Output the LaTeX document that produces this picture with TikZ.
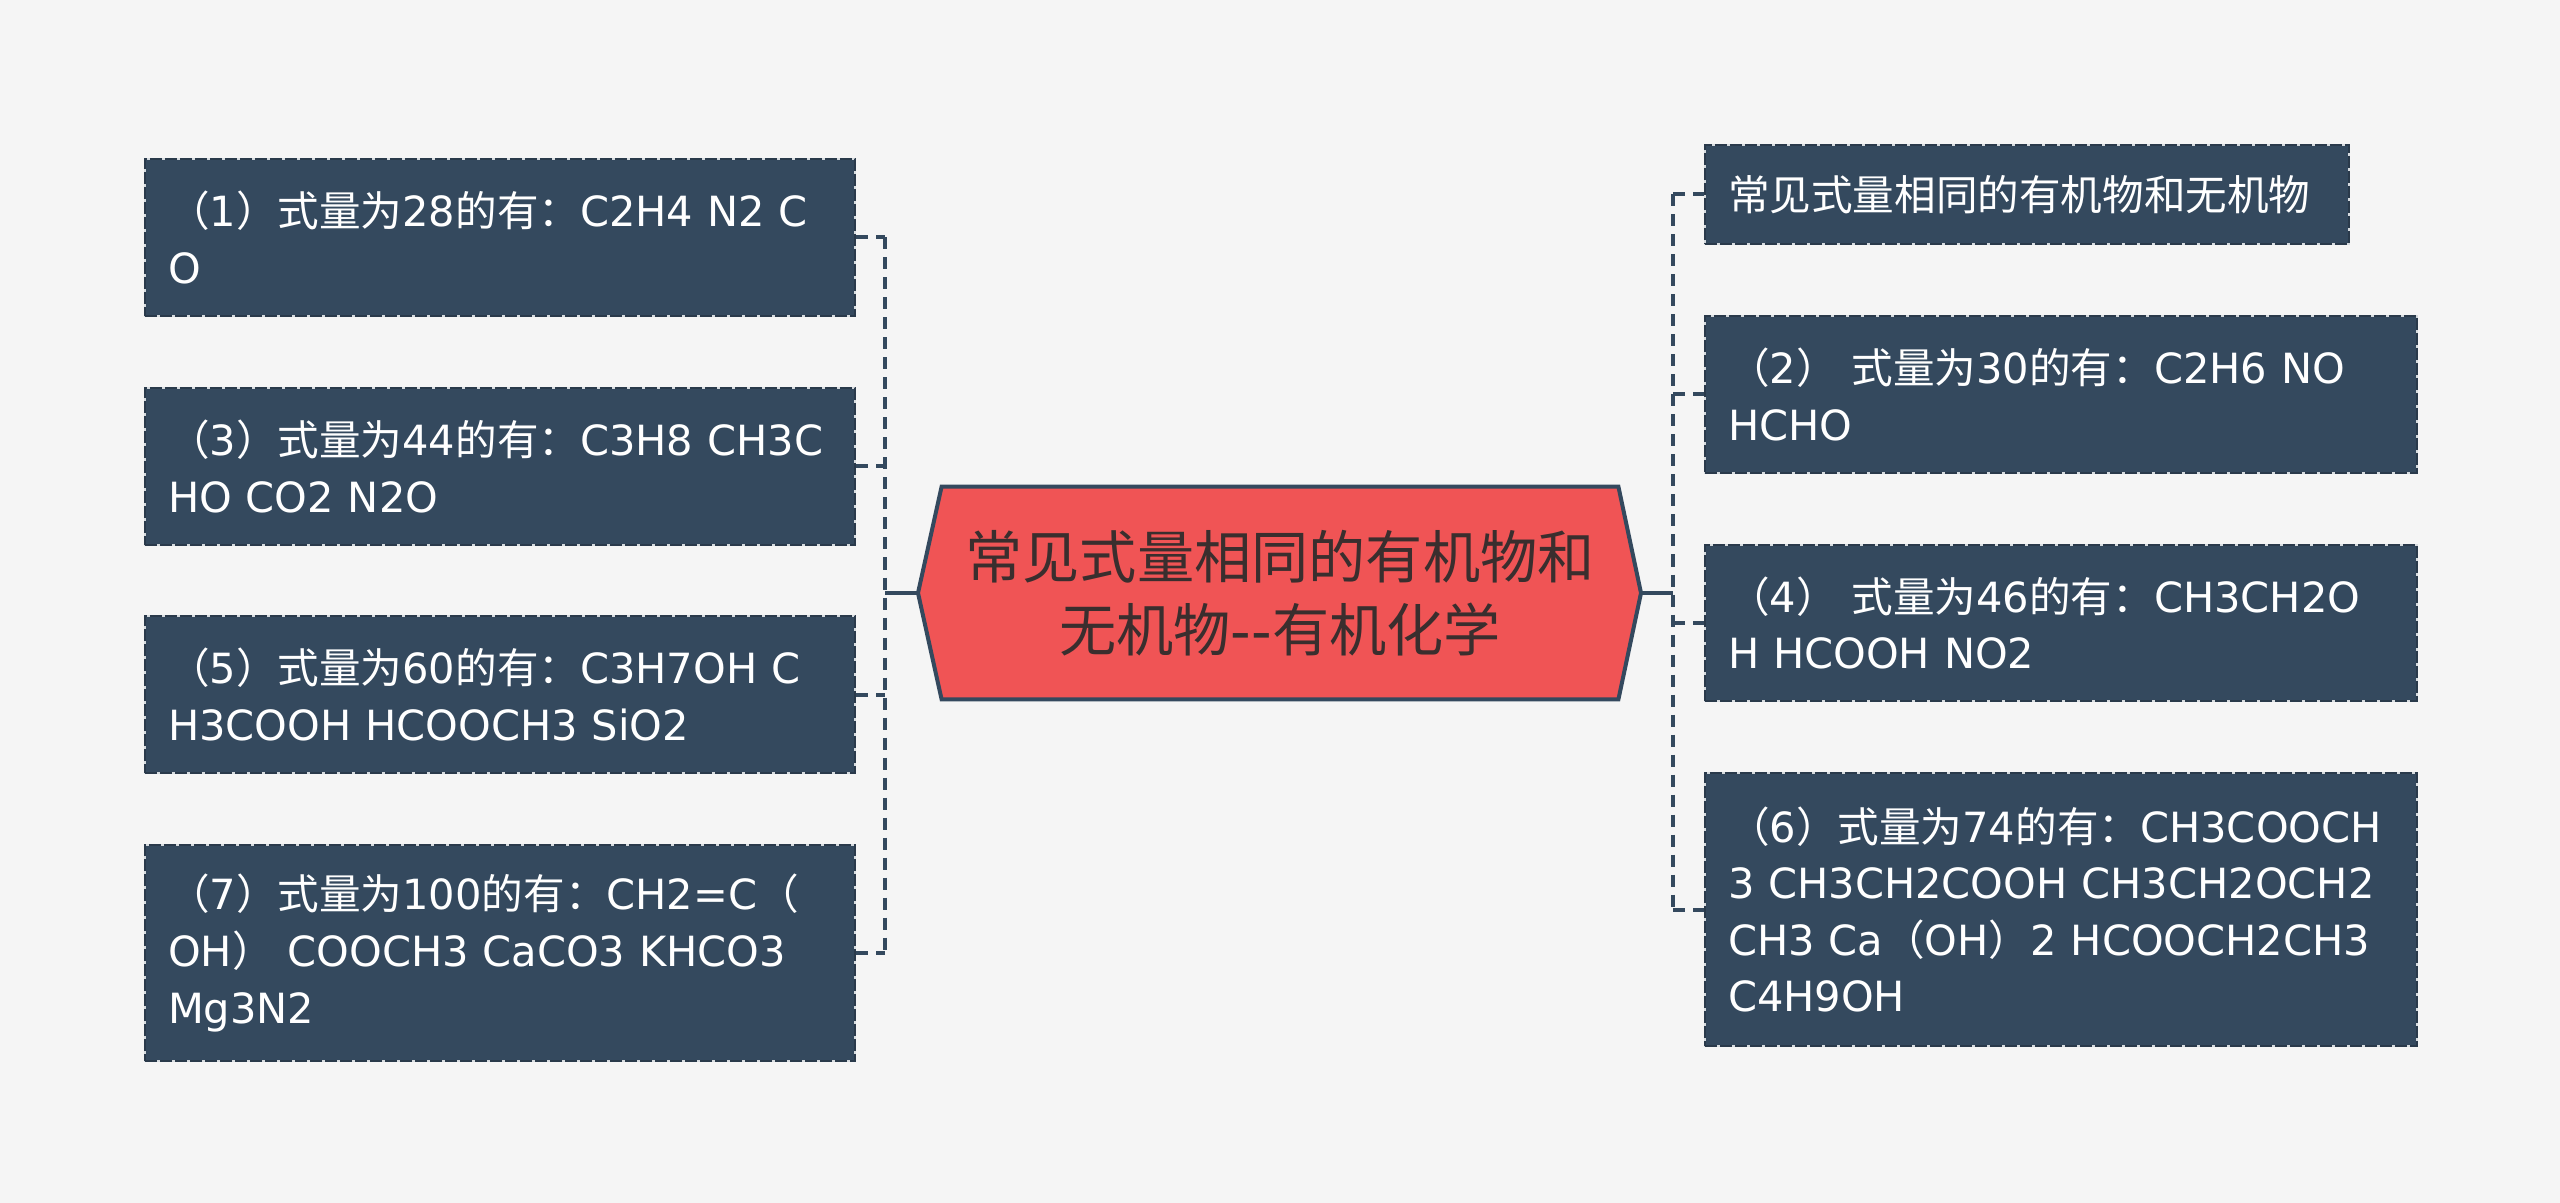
\documentclass[tikz,border=0pt]{standalone}
\usepackage{fontspec}
\setmainfont{DejaVu Sans}[Ligatures=TeXOff]
\newfontfamily\latfont{DejaVu Sans}
\newfontfamily\cjkfont{Noto Sans CJK SC}
\XeTeXinterchartokenstate=1
\newXeTeXintercharclass\cjkcls
\newcount\cccnt
\cccnt="3000 \loop \XeTeXcharclass\cccnt=\cjkcls \advance\cccnt by 1 \ifnum\cccnt<"3040 \repeat
\cccnt="4E00 \loop \XeTeXcharclass\cccnt=\cjkcls \advance\cccnt by 1 \ifnum\cccnt<"A000 \repeat
\cccnt="FF00 \loop \XeTeXcharclass\cccnt=\cjkcls \advance\cccnt by 1 \ifnum\cccnt<"FFF0 \repeat
\XeTeXinterchartoks 0 \cjkcls = {\cjkfont}
\XeTeXinterchartoks 4095 \cjkcls = {\cjkfont}
\XeTeXinterchartoks \cjkcls 0 = {\latfont}
\XeTeXinterchartoks 4095 0 = {\latfont}
\usetikzlibrary{backgrounds}
\definecolor{bg}{HTML}{F5F5F5}
\definecolor{boxc}{HTML}{34495E}
\definecolor{boxline}{HTML}{2A3A4B}
\definecolor{hexc}{HTML}{F05455}
\definecolor{txtd}{HTML}{3A2E2E}
\tikzset{
  leaf/.style={rectangle, fill=boxc, draw=white!80!boxc, line width=1pt,
    postaction={draw=boxline, line width=1pt, dash pattern=on 6pt off 1.5pt},
    text=white, anchor=north west, align=left, inner xsep=11.5pt, inner ysep=0pt,
    font=\fontsize{20.8}{28.3}\selectfont},
  hub/.style={rectangle, inner sep=0pt, text=txtd, align=center,
    font=\fontsize{28.6}{36.7}\selectfont},
  conn/.style={draw=boxc, line width=2pt, dash pattern=on 6pt off 4pt},
  trunk/.style={draw=boxc, line width=2pt},
}
\begin{document}
\begin{tikzpicture}[x=0.5pt,y=-0.5pt]
\useasboundingbox (0,0) rectangle (2560,1203);

% central hexagon
\node[hub, minimum width=338pt, minimum height=106pt] (hub) at (1280,593)
  {常见式量相同的有机物和\\无机物--有机化学};
\coordinate (hw) at (918,593);
\coordinate (he) at (1641,593);
\begin{scope}[on background layer]
\fill[bg] (0,0) rectangle (2560,1203);
\draw[fill=hexc, draw=boxc, line width=2pt, line join=miter] (hw) -- (hub.north west) -- (hub.north east) -- (he) -- (hub.south east) -- (hub.south west) -- cycle;
\end{scope}

% left boxes
\node[leaf, minimum width=355pt, minimum height=78.5pt, text width=332pt] (b1) at (144,158)
  {（1）式量为28的有：C2H4 N2 C\\O};
\node[leaf, minimum width=355pt, minimum height=78.5pt, text width=332pt] (b3) at (144,387)
  {（3）式量为44的有：C3H8 CH3C\\HO CO2 N2O};
\node[leaf, minimum width=355pt, minimum height=78.5pt, text width=332pt] (b5) at (144,615)
  {（5）式量为60的有：C3H7OH C\\H3COOH HCOOCH3 SiO2};
\node[leaf, minimum width=355pt, minimum height=108pt, text width=332pt] (b7) at (144,844)
  {（7）式量为100的有：CH2=C（\\OH） COOCH3 CaCO3 KHCO3\\Mg3N2};

% right boxes
\node[leaf, minimum width=322pt, minimum height=49.5pt, text width=299pt] (b0) at (1704,144)
  {常见式量相同的有机物和无机物};
\node[leaf, minimum width=356pt, minimum height=78.5pt, text width=333pt] (b2) at (1704,315)
  {（2） 式量为30的有：C2H6 NO\\HCHO};
\node[leaf, minimum width=356pt, minimum height=78pt, text width=333pt] (b4) at (1704,544)
  {（4） 式量为46的有：CH3CH2O\\H HCOOH NO2};
\node[leaf, minimum width=356pt, minimum height=136.5pt, text width=333pt] (b6) at (1704,772)
  {（6）式量为74的有：CH3COOCH\\3 CH3CH2COOH CH3CH2OCH2\\CH3 Ca（OH）2 HCOOCH2CH3\\C4H9OH};

% junctions
\coordinate (lj) at (885,593);
\coordinate (rj) at (1673,593);
\draw[trunk] (hw) -- (lj);
\draw[trunk] (he) -- (rj);

% left connectors
\draw[conn] (b1.east -| lj) -- (b7.east -| lj);
\foreach \b in {b1,b3,b5,b7} \draw[conn] (\b.east) -- (\b.east -| lj);

% right connectors
\draw[conn] (b0.west -| rj) -- (b6.west -| rj);
\foreach \b in {b0,b2,b4,b6} \draw[conn] (\b.west -| rj) -- (\b.west);
\end{tikzpicture}
\end{document}
